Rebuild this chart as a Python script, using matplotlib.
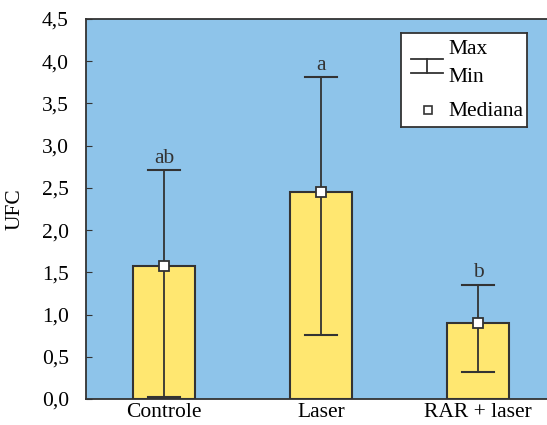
import numpy as np
import matplotlib.pyplot as plt
from matplotlib.lines import Line2D

plt.rcParams['font.family'] = ['Liberation Serif', 'DejaVu Serif']

grupos = ["Controle", "Laser", "RAR + laser"]
mediana = [1.57, 2.45, 0.90]
maximo = [2.71, 3.81, 1.35]
minimo = [0.02, 0.76, 0.32]
letras = ["ab", "a", "b"]

azul = "#8EC4EA"
amarelo = "#FFE770"
escuro = "#333333"
fs = 15.5

fig = plt.figure(figsize=(5.47, 4.25), dpi=100)
ax = fig.add_axes([85.5 / 547, 26 / 425, 471 / 547, 380 / 425])
ax.set_facecolor(azul)

x = np.arange(len(grupos))
ax.bar(x, mediana, width=0.4, color=amarelo, edgecolor=escuro, linewidth=1.5, zorder=2)
for i in range(len(grupos)):
    ax.plot([x[i], x[i]], [minimo[i], maximo[i]], color=escuro, lw=1.3, zorder=3)
    ax.plot([x[i] - 0.1, x[i] + 0.1], [maximo[i], maximo[i]], color=escuro, lw=1.5, zorder=3)
    ax.plot([x[i] - 0.1, x[i] + 0.1], [minimo[i], minimo[i]], color=escuro, lw=1.5, zorder=3)
    ax.text(x[i], maximo[i] + 0.03, letras[i], ha="center", va="bottom", fontsize=fs, color=escuro)
ax.plot(x, mediana, ls="none", marker="s", ms=7, mfc="white", mec=escuro, mew=1.3, zorder=4)

ax.set_xlim(-0.5, 2.5)
ax.set_ylim(0, 4.5)
ax.set_xticks(x)
ax.set_xticklabels(grupos, fontsize=fs)
ax.set_yticks(np.arange(0, 4.51, 0.5))
ax.set_yticklabels([f"{v:.1f}".replace(".", ",") for v in np.arange(0, 4.51, 0.5)], fontsize=fs)
ax.tick_params(axis="x", length=0, pad=3)
ax.tick_params(axis="y", direction="in", length=4, color=escuro, pad=12)
ax.set_ylabel("UFC", fontsize=fs, labelpad=8)
ax.yaxis.set_label_coords(-0.13, 0.5)
for s in ax.spines.values():
    s.set_color(escuro)
    s.set_linewidth(1.3)

# legenda: max/min e mediana
leg_ax = fig.add_axes([401 / 547, 1 - 127 / 425, 126 / 547, 94 / 425])
leg_ax.set_xlim(0, 126)
leg_ax.set_ylim(94, 0)
leg_ax.set_xticks([])
leg_ax.set_yticks([])
leg_ax.set_facecolor("white")
for s in leg_ax.spines.values():
    s.set_color(escuro)
    s.set_linewidth(1.3)
leg_ax.plot([10, 42], [26, 26], color=escuro, lw=1.3)
leg_ax.plot([10, 42], [40, 40], color=escuro, lw=1.3)
leg_ax.plot([26, 26], [26, 40], color=escuro, lw=1.3)
leg_ax.text(47, 17, "Max", fontsize=fs, va="center")
leg_ax.text(47, 44, "Min", fontsize=fs, va="center")
leg_ax.plot([27], [77], ls="none", marker="s", ms=6, mfc="white", mec=escuro, mew=1.2)
leg_ax.text(47, 78, "Mediana", fontsize=fs, va="center")

fig.savefig("out.png", dpi=100)
